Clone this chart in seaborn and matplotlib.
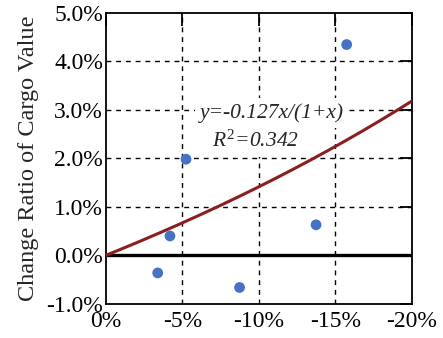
import numpy as np
import pandas as pd
import matplotlib
matplotlib.use("Agg")
import matplotlib.pyplot as plt
import seaborn as sns

# Data
freight_change = [-0.034, -0.042, -0.0525, -0.0875, -0.1375, -0.1575]
cargo_change = [-0.0036, 0.0040, 0.0198, -0.0066, 0.0063, 0.0434]
fit_coef = -0.127
r_squared = 0.342
x_ticks = [0.0, -0.05, -0.10, -0.15, -0.20]
x_tick_labels = ["0%", "-5%", "-10%", "-15%", "-20%"]
y_ticks = [-0.01, 0.0, 0.01, 0.02, 0.03, 0.04, 0.05]
y_tick_labels = ["-1.0%", "0.0%", "1.0%", "2.0%", "3.0%", "4.0%", "5.0%"]

sns.set_style("white")
plt.rcParams["font.family"] = ["Liberation Serif", "DejaVu Serif"]
plt.rcParams["mathtext.fontset"] = "custom"
plt.rcParams["mathtext.rm"] = "Liberation Serif"
plt.rcParams["mathtext.it"] = "Liberation Serif:italic"
plt.rcParams["mathtext.default"] = "it"

fig = plt.figure(figsize=(4.43, 3.38), dpi=100)
ax = fig.add_axes([0.2386, 0.1006, 0.6907, 0.8624])

xs = np.linspace(0, -0.2, 200)
curve = pd.DataFrame({"x": xs, "y": fit_coef * xs / (1 + xs)})
pts = pd.DataFrame({"x": freight_change, "y": cargo_change})

# gridlines
for xv in x_ticks[1:-1]:
    ax.axvline(xv, color="black", lw=1.0, linestyle=(0, (3.5, 3.5)), zorder=1)
for yv in y_ticks[1:-1]:
    ax.axhline(yv, color="black", lw=1.0, linestyle=(0, (3.5, 3.5)), zorder=1)
ax.axhline(0, color="black", lw=2.4, zorder=2)

sns.lineplot(data=curve, x="x", y="y", ax=ax, color="#8B1E1E", lw=2.2, zorder=3)
sns.scatterplot(data=pts, x="x", y="y", ax=ax, color="#4472C4", s=60,
                edgecolor="none", zorder=4)

ax.set_xlim(0, -0.2)
ax.set_ylim(-0.01, 0.05)
ax.set_xticks(x_ticks)
ax.set_xticklabels(x_tick_labels)
ax.set_yticks(y_ticks)
ax.set_yticklabels(y_tick_labels)
ax.tick_params(direction="in", length=9, width=1.3, top=True, right=True,
               labelsize=17, color="black", labelcolor="black")
ax.tick_params(axis="y", pad=2)
ax.tick_params(axis="x", pad=5)
ax.set_xlabel("")
ax.set_ylabel("Change Ratio of Cargo Value", fontsize=17.5, labelpad=5)
for sp in ax.spines.values():
    sp.set_color("black")
    sp.set_linewidth(1.3)

ax.text(-0.1087, 0.0293, f"y={fit_coef}x/(1+x)", style="italic", fontsize=15.5,
        ha="center", va="center", zorder=5,
        bbox=dict(facecolor="white", edgecolor="none", pad=3.5))
ax.text(-0.0982, 0.0235, r"$R^{2}$" + f"={r_squared}", style="italic",
        fontsize=15.5, ha="center", va="center", zorder=6,
        bbox=dict(facecolor="white", edgecolor="none", pad=3.5))

fig.savefig("out.png", dpi=100)
